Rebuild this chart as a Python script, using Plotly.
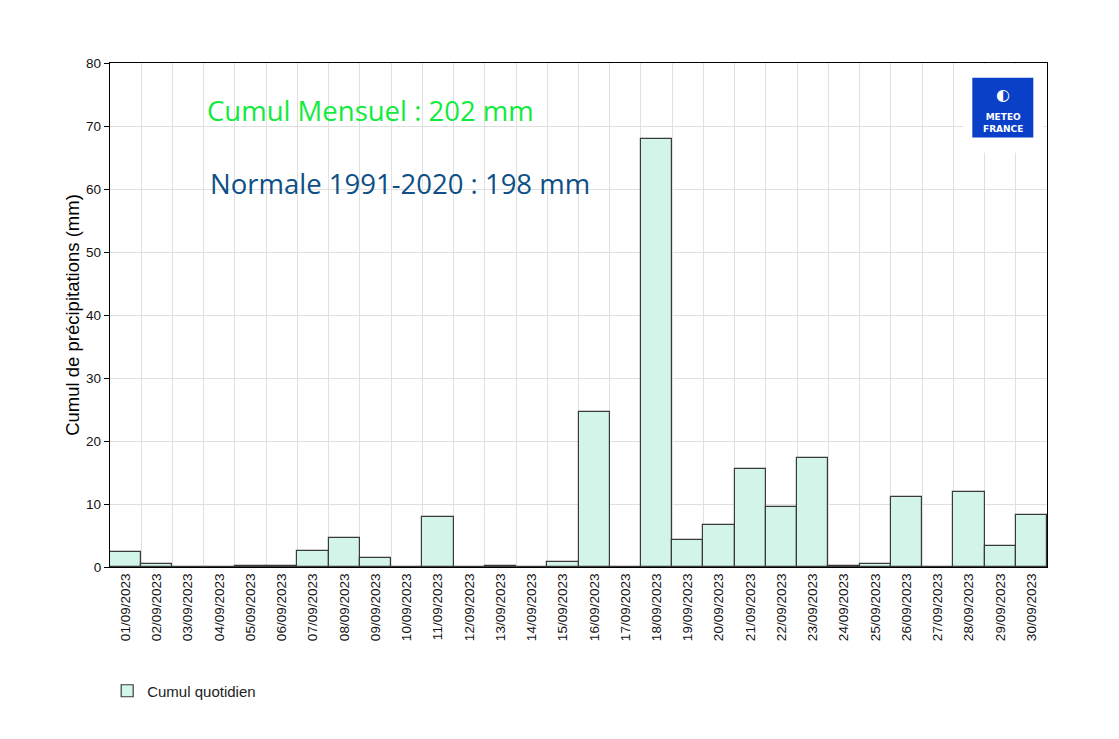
import plotly.graph_objects as go

dates = [f"{d:02d}/09/2023" for d in range(1, 31)]
rain_mm = [2.4, 0.5, 0.0, 0.0, 0.2, 0.2, 2.5, 4.6, 1.4, 0.0,
           8.0, 0.0, 0.2, 0.0, 0.8, 24.6, 0.0, 68.0, 4.3, 6.7,
           15.6, 9.5, 17.3, 0.2, 0.5, 11.1, 0.0, 11.9, 3.4, 8.3]
y_ticks = [0, 10, 20, 30, 40, 50, 60, 70, 80]
cumul_text = "Cumul Mensuel : 202 mm"
normale_text = "Normale 1991-2020 : 198 mm"

fig = go.Figure()
fig.add_trace(go.Bar(
    x=dates, y=rain_mm, name="Cumul quotidien",
    marker=dict(color="#d3f5e9", line=dict(color="#3a3a3a", width=1.2)),
    showlegend=True,
))

fig.update_layout(
    width=1119, height=739,
    margin=dict(l=102, r=80, t=55, b=180, autoexpand=False),
    paper_bgcolor="white", plot_bgcolor="white",
    bargap=0,
    font=dict(family="Arial, Liberation Sans, sans-serif", size=13, color="black"),
    xaxis=dict(
        type="category", tickson="boundaries", showgrid=True,
        gridcolor="#e0e0e0", gridwidth=1,
        tickangle=-90, ticks="", ticklen=0,
        showline=True, linecolor="black", linewidth=1.3, mirror=True,
        tickfont=dict(size=13.5, color="#111"),
    ),
    yaxis=dict(
        range=[0, 80], tickvals=y_ticks, showgrid=True,
        gridcolor="#e0e0e0", gridwidth=1,
        ticks="outside", ticklen=5, tickcolor="black",
        showline=True, linecolor="black", linewidth=1.3, mirror=True,
        zeroline=False,
        tickfont=dict(size=13.5, color="#111"),
        title=dict(text="Cumul de précipitations (mm)", font=dict(size=18.5, color="black"), standoff=1),
    ),
    legend=dict(
        orientation="h", x=-0.003, xanchor="left", y=-0.246, yanchor="middle",
        font=dict(size=15, color="#222"), bgcolor="rgba(0,0,0,0)",
    ),
    annotations=[
        dict(text=cumul_text, xref="paper", yref="paper", x=0.1016, y=0.905,
             xanchor="left", yanchor="middle", showarrow=False,
             font=dict(family="Open Sans, Noto Sans, sans-serif", size=27.5, color="#12ea3e")),
        dict(text=normale_text, xref="paper", yref="paper", x=0.1046, y=0.760,
             xanchor="left", yanchor="middle", showarrow=False,
             font=dict(family="Open Sans, Noto Sans, sans-serif", size=27.5, color="#0d4f86")),
        dict(text="<b>METEO<br>FRANCE</b>", xref="paper", yref="paper", x=0.9528, y=0.88,
             xanchor="center", yanchor="middle", showarrow=False,
             font=dict(family="DejaVu Sans, sans-serif", size=9, color="white")),
        dict(text="◐", xref="paper", yref="paper", x=0.9528, y=0.937,
             xanchor="center", yanchor="middle", showarrow=False,
             font=dict(family="DejaVu Sans, sans-serif", size=16, color="white")),
    ],
    shapes=[
        dict(type="rect", xref="paper", yref="paper", x0=0.9106, x1=0.996, y0=0.822, y1=0.9986,
             fillcolor="white", line=dict(width=0), layer="above"),
        dict(type="rect", xref="paper", yref="paper", x0=0.9203, x1=0.9854, y0=0.852, y1=0.9708,
             fillcolor="#0a3fc8", line=dict(width=0), layer="above"),
    ],
)

fig.write_html("out.html")
